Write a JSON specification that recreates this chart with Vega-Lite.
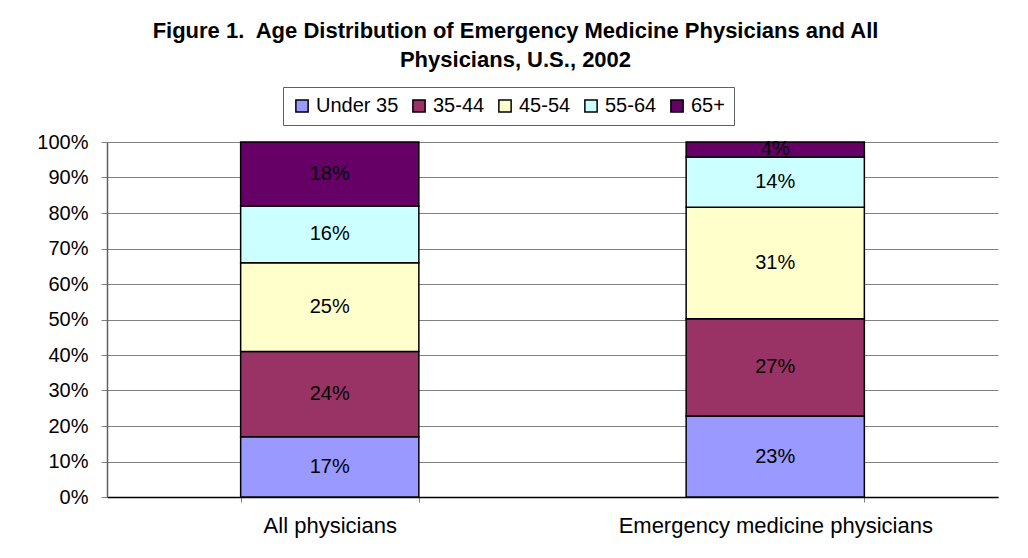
{
  "$schema": "https://vega.github.io/schema/vega-lite/v6.json",
  "autosize": {"type": "none"},
  "width": 891,
  "height": 355,
  "padding": {"left": 107, "top": 142, "right": 30, "bottom": 61},
  "background": "white",
  "title": {
    "text": ["Figure 1.\u00a0 Age Distribution of Emergency Medicine Physicians and All", "Physicians, U.S., 2002"],
    "font": "Liberation Sans",
    "fontSize": 22,
    "fontWeight": "bold",
    "lineHeight": 29,
    "anchor": "middle",
    "frame": "group",
    "dx": -37,
    "offset": 15,
    "color": "black"
  },
  "data": {
    "values": [
      {"group": "All physicians", "age": "Under 35", "ord": 1, "share": 0.17},
      {"group": "All physicians", "age": "35-44", "ord": 2, "share": 0.24},
      {"group": "All physicians", "age": "45-54", "ord": 3, "share": 0.25},
      {"group": "All physicians", "age": "55-64", "ord": 4, "share": 0.16},
      {"group": "All physicians", "age": "65+", "ord": 5, "share": 0.18},
      {"group": "Emergency medicine physicians", "age": "Under 35", "ord": 1, "share": 0.228},
      {"group": "Emergency medicine physicians", "age": "35-44", "ord": 2, "share": 0.274},
      {"group": "Emergency medicine physicians", "age": "45-54", "ord": 3, "share": 0.314},
      {"group": "Emergency medicine physicians", "age": "55-64", "ord": 4, "share": 0.142},
      {"group": "Emergency medicine physicians", "age": "65+", "ord": 5, "share": 0.042}
    ]
  },
  "transform": [
    {"stack": "share", "groupby": ["group"], "sort": [{"field": "ord", "order": "ascending"}], "as": ["y0", "y1"]},
    {"calculate": "(datum.y0 + datum.y1) / 2", "as": "ymid"}
  ],
  "encoding": {
    "x": {
      "field": "group",
      "type": "nominal",
      "sort": ["All physicians", "Emergency medicine physicians"],
      "scale": {"paddingInner": 0.6, "paddingOuter": 0.3},
      "axis": {
        "title": null,
        "labelAngle": 0,
        "labelFont": "Liberation Sans",
        "labelFontSize": 22,
        "labelColor": "black",
        "labelPadding": 13,
        "labelLimit": 0,
        "tickBand": "extent",
        "tickSize": 5,
        "tickColor": "#808080",
        "domainColor": "black",
        "domainWidth": 1.5
      }
    }
  },
  "layer": [
    {
      "mark": {"type": "bar", "stroke": "black", "strokeWidth": 1.5},
      "encoding": {
        "y": {
          "field": "y0",
          "type": "quantitative",
          "scale": {"domain": [0, 1]},
          "axis": {
            "title": null,
            "format": ".0%",
            "values": [0, 0.1, 0.2, 0.3, 0.4, 0.5, 0.6, 0.7, 0.8, 0.9, 1],
            "labelOverlap": false,
            "labelFont": "Liberation Sans",
            "labelFontSize": 20,
            "labelColor": "black",
            "labelPadding": 13,
            "tickSize": 6,
            "tickColor": "#808080",
            "domainColor": "#606060",
            "domainWidth": 1.5,
            "grid": true,
            "gridColor": "#808080",
            "gridWidth": 1
          }
        },
        "y2": {"field": "y1"},
        "color": {
          "field": "age",
          "type": "nominal",
          "scale": {
            "domain": ["Under 35", "35-44", "45-54", "55-64", "65+"],
            "range": ["#9999FF", "#993366", "#FFFFCC", "#CCFFFF", "#660066"]
          },
          "legend": {
            "title": null,
            "orient": "none",
            "direction": "horizontal",
            "columns": 5,
            "legendX": 176,
            "legendY": -55,
            "symbolType": "square",
            "symbolSize": 150,
            "symbolStrokeColor": "black",
            "symbolStrokeWidth": 1.5,
            "symbolOpacity": 1,
            "labelFont": "Liberation Sans",
            "labelFontSize": 20,
            "labelColor": "black",
            "labelOffset": 4,
            "columnPadding": 10,
            "strokeColor": "#606060",
            "padding": 9
          }
        }
      }
    },
    {
      "mark": {"type": "text", "font": "Liberation Sans", "fontSize": 20, "color": "black", "baseline": "middle"},
      "encoding": {
        "y": {
          "field": "ymid",
          "type": "quantitative",
          "axis": {
            "title": null,
            "format": ".0%",
            "values": [0, 0.1, 0.2, 0.3, 0.4, 0.5, 0.6, 0.7, 0.8, 0.9, 1],
            "labelOverlap": false,
            "labelFont": "Liberation Sans",
            "labelFontSize": 20,
            "labelColor": "black",
            "labelPadding": 13,
            "tickSize": 6,
            "tickColor": "#808080",
            "domainColor": "#606060",
            "domainWidth": 1.5,
            "grid": true,
            "gridColor": "#808080",
            "gridWidth": 1
          }
        },
        "text": {"field": "share", "type": "quantitative", "format": ".0%"}
      }
    }
  ],
  "config": {"view": {"stroke": null}}
}
